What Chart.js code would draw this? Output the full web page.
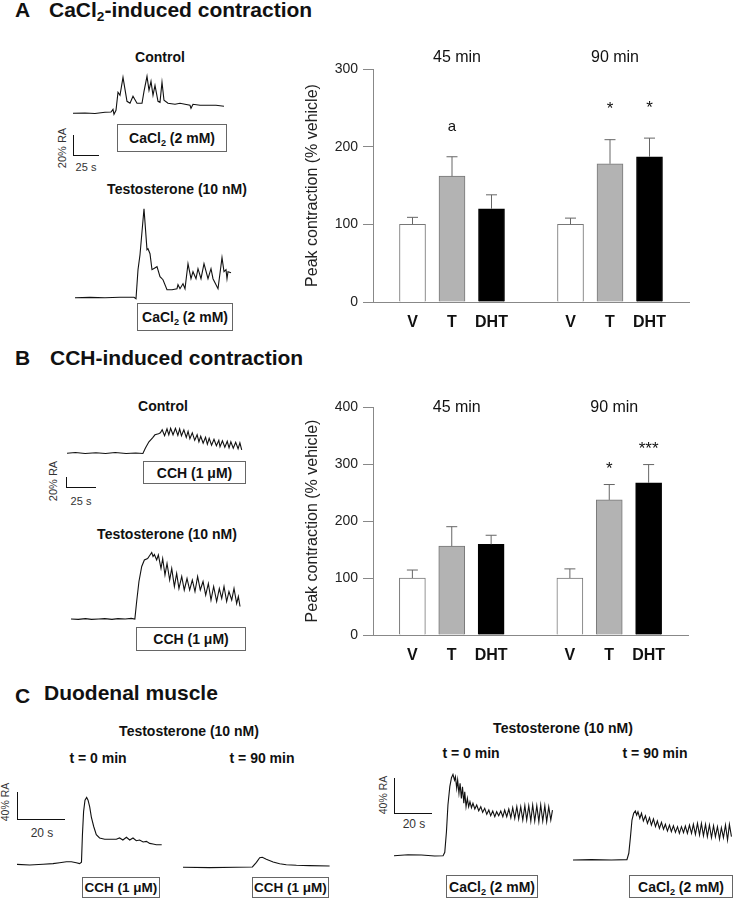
<!DOCTYPE html>
<html>
<head>
<meta charset="utf-8">
<script src="https://cdn.jsdelivr.net/npm/chart.js@4"></script>
<style>
  body { margin: 0; background: #fff; }
  #fig { position: relative; width: 737px; height: 900px; overflow: hidden; font-family: Arial, "Liberation Sans", sans-serif; color: #111; }
  #fig canvas { position: absolute; }
  .h { position: absolute; font-weight: bold; font-size: 21px; line-height: 21px; white-space: nowrap; }
  .t { position: absolute; white-space: nowrap; line-height: 1; transform: translate(-50%, -50%); }
  .b { font-weight: bold; font-size: 14px; }
  .rot { transform: translate(-50%, -50%) rotate(-90deg); font-size: 11px; color: #333; }
  .sec { font-size: 12px; color: #333; }
  .box { position: absolute; box-sizing: border-box; border: 1px solid #666; display: flex; align-items: center; justify-content: center; font-weight: bold; font-size: 14px; white-space: nowrap; }
  .bar { position: absolute; box-sizing: border-box; border-left: 1.5px solid #111; border-bottom: 1.5px solid #111; }
  sub { font-size: 0.65em; vertical-align: -0.3em; line-height: 0; }
</style>
</head>
<body>
<div id="fig">
  <!-- headings -->
  <div class="h" style="left:15px;top:-1px">A</div>
  <div class="h" style="left:49px;top:-1px">CaCl<sub>2</sub>-induced contraction</div>
  <div class="h" style="left:15px;top:347px">B</div>
  <div class="h" style="left:50px;top:347px">CCH-induced contraction</div>
  <div class="h" style="left:15px;top:685px">C</div>
  <div class="h" style="left:44px;top:682px">Duodenal muscle</div>

  <!-- A traces -->
  <div class="t b" style="left:160px;top:57px">Control</div>
  <div class="t b" style="left:177px;top:189px">Testosterone (10 nM)</div>
  <div class="box" style="left:117px;top:124px;width:110px;height:28px"><span>CaCl<sub>2</sub> (2 mM)</span></div>
  <div class="box" style="left:137px;top:303px;width:96px;height:28px"><span>CaCl<sub>2</sub> (2 mM)</span></div>
  <div class="bar" style="left:73px;top:135px;width:26px;height:21px"></div>
  <div class="t rot" style="left:62px;top:148px">20% RA</div>
  <div class="t sec" style="left:86px;top:167px;font-size:11px">25 s</div>
  <canvas id="aCtrl" width="151" height="50" style="left:73px;top:70px"></canvas>
  <canvas id="aTesto" width="160" height="105" style="left:75px;top:200px"></canvas>

  <!-- B traces -->
  <div class="t b" style="left:163px;top:406px">Control</div>
  <div class="t b" style="left:167px;top:534px">Testosterone (10 nM)</div>
  <div class="box" style="left:143px;top:461px;width:103px;height:23px"><span>CCH (1 μM)</span></div>
  <div class="box" style="left:136px;top:627px;width:110px;height:24px"><span>CCH (1 μM)</span></div>
  <div class="bar" style="left:66px;top:477px;width:30px;height:11px"></div>
  <div class="t rot" style="left:53px;top:481px">20% RA</div>
  <div class="t sec" style="left:81px;top:501px;font-size:11px">25 s</div>
  <canvas id="bCtrl" width="180" height="40" style="left:67px;top:420px"></canvas>
  <canvas id="bTesto" width="175" height="80" style="left:71px;top:545px"></canvas>

  <!-- C traces -->
  <div class="t b" style="left:189px;top:731px">Testosterone (10 nM)</div>
  <div class="t b" style="left:98px;top:758px">t = 0 min</div>
  <div class="t b" style="left:262px;top:758px">t = 90 min</div>
  <div class="t b" style="left:563px;top:728px">Testosterone (10 nM)</div>
  <div class="t b" style="left:471px;top:753px">t = 0 min</div>
  <div class="t b" style="left:655px;top:753px">t = 90 min</div>
  <div class="box" style="left:82px;top:877px;width:78px;height:21px;font-size:13.5px"><span>CCH (1 μM)</span></div>
  <div class="box" style="left:252px;top:877px;width:77px;height:21px;font-size:13.5px"><span>CCH (1 μM)</span></div>
  <div class="box" style="left:446px;top:875px;width:92px;height:23px"><span>CaCl<sub>2</sub> (2 mM)</span></div>
  <div class="box" style="left:629px;top:875px;width:104px;height:23px"><span>CaCl<sub>2</sub> (2 mM)</span></div>
  <div class="bar" style="left:17px;top:792px;width:48px;height:28px"></div>
  <div class="t rot" style="left:5px;top:802px;font-size:10.5px">40% RA</div>
  <div class="t sec" style="left:42px;top:833px">20 s</div>
  <div class="bar" style="left:394px;top:778px;width:38px;height:36px"></div>
  <div class="t rot" style="left:383px;top:795px;font-size:10.5px">40% RA</div>
  <div class="t sec" style="left:414px;top:824px">20 s</div>
  <canvas id="cCch0" width="150" height="85" style="left:17px;top:785px"></canvas>
  <canvas id="cCch90" width="150" height="30" style="left:183px;top:845px"></canvas>
  <canvas id="cCa0" width="165" height="95" style="left:394px;top:765px"></canvas>
  <canvas id="cCa90" width="162" height="65" style="left:573px;top:800px"></canvas>

  <!-- bar charts -->
  <canvas id="barA" width="410" height="300" style="left:290px;top:40px"></canvas>
  <canvas id="barB" width="410" height="300" style="left:290px;top:380px"></canvas>
</div>

<script>
/* global Chart */

// ── Bar data ───────────────────────────────────────────────────────────────

const barCategories = ['V', 'T', 'DHT'];
const timeGroups    = ['45 min', '90 min'];
const barFills      = ['#ffffff', '#b3b3b3', '#000000'];

// CaCl2-induced contraction, % vehicle (45 min V,T,DHT then 90 min V,T,DHT)
const caclMean  = [100, 162, 120, 100, 178, 187];
const caclSem   = [9, 25, 18, 8, 31, 24];
const caclSig   = ['', 'a', '', '', '*', '*'];
const caclTicks = [0, 100, 200, 300];

// CCH-induced contraction, % vehicle
const cchMean  = [100, 156, 159, 100, 237, 267];
const cchSem   = [14, 34, 16, 16, 27, 32];
const cchSig   = ['', '', '', '', '*', '***'];
const cchTicks = [0, 100, 200, 300, 400];

// ── Trace data (time in s, tension in % RA above baseline) ──────────────────

const aCtrlTime = [0, 12, 22, 32, 38, 40, 41, 43, 45, 47, 50, 54, 57, 60, 64, 69, 71, 74, 76, 78, 80, 82, 85, 87, 89, 91, 95, 102, 107, 112, 117, 118, 120, 127, 135, 143, 151];
const aCtrlRA   = [0, 0.3, -0.2, 1, 1.3, 4, -1, 3, 21, 18, 36, 12, 10, 17, 10, 10, 22, 37, 23, 32, 18, 28, 12, 11, 31, 13, 10, 9, 10, 9, 8, 5, 9, 8, 8, 8, 7];

const aTestoTime = [0, 15, 30, 45, 59, 61, 63, 65, 69, 72, 73, 75, 77, 82, 85, 88, 92, 97, 102, 103, 105, 108, 110, 113, 116, 118, 121, 123, 126, 129, 133, 136, 138, 143, 147, 149, 151, 152, 153, 156];
const aTestoRA   = [0, 0.3, 0, 0.5, 0.5, -1, 28, 43, 89, 48, 49, 44, 28, 31, 21, 18, 8, 8, 9, 13, 9, 14, 9, 34, 19, 26, 19, 29, 19, 34, 19, 29, 19, 9, 40, 26, 28, 19, 26, 25];

const bCtrlTime = [0, 7, 15, 24, 32, 40, 49, 57, 63, 65, 68, 71, 73, 76, 77.5,
  79, 81, 83, 84.5, 86, 88, 90, 92, 93.5, 95, 97, 99, 100.5, 102, 104, 106, 108, 109.5, 111, 113,
  115, 116.5, 118, 120, 122, 124, 126, 127, 129, 131, 133, 134.5, 136, 138, 140, 142, 143.5, 145];
const bCtrlRA   = [0, 1.6, -0.4, 1, -0.4, 1.6, -0.4, 0.6, -0.4, 10, 23, 31, 37, 39, 41,
  47, 35, 49, 37, 50, 37, 50, 36, 49, 35, 47, 32, 44, 29, 41, 26, 37, 23, 34, 20,
  32, 18, 30, 16, 28, 15, 26, 13, 25, 12, 24, 11, 23, 10, 22, 9, 21, 7];

const bTestoTime = [0, 6, 12, 17, 23, 28, 34, 39, 45, 50, 53, 54.5, 56.4, 58.7, 60.9, 63.6, 65.6, 67, 68.1, 69.2,
  71.1, 72.5, 74.7, 76.1, 78, 79.7, 81.9, 83.6, 85.8, 87.7, 89.6, 91.9, 94, 96.3, 98.5, 100.7, 102.9, 105.1, 107.3, 109.6,
  111.8, 114, 116.2, 118.4, 120.9, 123.1, 125.1, 127, 129.2, 131.1, 133.4, 135.3, 137.5, 138.9, 140.3];
const bTestoRA   = [0, -0.7, 0.7, -0.7, 0, 0.7, -0.7, 0.7, 0, 1.3, 0, 35, 75, 105, 118, 121, 128, 133, 125, 129,
  118, 128, 101, 121, 88, 111, 78, 101, 65, 91, 61, 85, 58, 81, 58, 78, 55, 85, 58, 75,
  48, 71, 38, 65, 35, 61, 41, 65, 35, 55, 38, 61, 31, 45, 25];

const cCch0Time = [0, 5.4, 11.1, 15.3, 18.1, 21, 23.1, 25.2, 26.6, 27.4, 27.8, 28.3, 28.9, 29.6, 30.2, 30.9, 31.6, 32.6, 33.7, 35.1,
  37.3, 39.4, 42.2, 43.6, 45, 46.5, 47.9, 49.3, 50.7, 52.1, 53.6, 55, 56.4, 57.8, 59.2, 61.5];
const cCch0RA   = [0, -1, 0, 1, 2.4, 3.9, 3.9, 2.4, 1, 3, 43, 78, 95, 99, 95, 85, 70, 56, 44, 39,
  37, 37, 37, 39, 36, 40, 36, 39, 35, 36, 33, 34, 31, 30, 29, 29];

const cCch90Time = [0, 11.3, 22.7, 29.5, 31.2, 32.6, 33.7, 35.4, 38.3, 41.1, 43.9, 48.2, 53.8, 62.3];
const cCch90RA   = [0, -0.5, 0, 0.5, 7.4, 14.2, 14.8, 11.8, 7.8, 5.3, 3.8, 3, 2.5, 2];

const cCa0Time = [0, 7.5, 14.7, 21.8, 26.3, 27.2, 28.1, 28.9, 29.9, 30.8,
  31.6, 32.4, 32.9, 33.6, 34.1, 34.8, 35.4, 36.1, 36.7, 37.4,
  37.9, 38.6, 39.3, 40, 40.7, 41.5, 42.3, 43.3, 44.3, 45.4,
  46.5, 47.5, 48.6, 49.7, 50.8, 51.8, 52.9, 54, 55, 56.1,
  57.2, 58.3, 59.3, 60.4, 61.5, 62.6, 63.6, 64.7, 65.8, 66.8,
  67.9, 69, 70.1, 71.1, 72.2, 73.3, 74.3, 75.4, 76.5, 77.6,
  78.6, 79.7, 80.8, 81.8, 82.9, 84, 84.9];
const cCa0RA   = [0, 1.1, 0.8, -0.4, 0, 3.9, 27.4, 58, 78.9, 89.2,
  93, 86.5, 90.3, 77, 86.5, 71.3, 82.7, 65.6, 78.9, 59.9,
  73.2, 56, 65.6, 56, 61.7, 54.9, 59.9, 53.4, 58, 51.4,
  56, 49.6, 54.2, 47.3, 52.2, 45.7, 51.1, 44.6, 50.3, 45.7,
  51.1, 44.6, 52.2, 44.6, 53.4, 43.4, 54.9, 42.7, 56, 41.9,
  56, 40.8, 57.2, 40.8, 57.2, 39.7, 58, 39.7, 57.2, 38.9,
  58, 39.7, 57.2, 38.9, 56, 40.8, 52.2];

const cCa90Time = [0, 9.9, 20.6, 28.9, 29.9, 30.8, 31.6, 32.5, 33.4, 34.1,
  34.8, 35.8, 36.7, 37.7, 38.8, 39.9, 41, 42, 43.1, 44.2,
  45.2, 46.3, 47.4, 48.5, 49.5, 50.6, 51.7, 52.7, 53.8, 54.9,
  56, 57, 58.1, 59.2, 60.2, 61.3, 62.4, 63.5, 64.5, 65.6,
  66.7, 67.8, 68.8, 69.9, 71, 72, 73.1, 74.2, 75.3, 76.3,
  77.4, 78.5, 79.5, 80.6, 81.7, 82.8, 83.8, 84.9];
const cCa90RA   = [0, 0.4, 0, 0.4, 7.7, 26.7, 45.7, 53.4, 56, 51.4,
  55.2, 47.7, 53.4, 44.6, 50.6, 41.9, 48.4, 40, 46.9, 38.1,
  44.6, 36.2, 43.1, 35.1, 40.8, 33.1, 40, 32.4, 39.2, 31.6,
  38.1, 30.5, 38.1, 31.2, 38.9, 30.5, 40, 30.5, 40.8, 29.4,
  41.9, 28.6, 41.9, 27.8, 40.8, 26.7, 40, 25.5, 39.2, 26.7,
  38.1, 24, 36.9, 25.5, 40, 22.9, 40.8, 26.7];

Chart.defaults.font.family = 'Arial, "Liberation Sans", Helvetica, sans-serif';

// ── Traces ─────────────────────────────────────────────────────────────────

function drawTrace(id, time, ra, xMax, yMin, yMax) {
  new Chart(document.getElementById(id), {
    type: 'line',
    data: {
      datasets: [{
        data: time.map((t, i) => ({ x: t, y: ra[i] })),
        borderColor: '#111',
        borderWidth: 1.1,
        pointRadius: 0,
        tension: 0,
        clip: false,
      }],
    },
    options: {
      responsive: false,
      animation: false,
      events: [],
      layout: { padding: 0 },
      plugins: { legend: { display: false }, tooltip: { enabled: false } },
      scales: {
        x: { type: 'linear', display: false, min: 0, max: xMax },
        y: { type: 'linear', display: false, min: yMin, max: yMax },
      },
    },
  });
}

drawTrace('aCtrl',  aCtrlTime,  aCtrlRA,  151,    -6.7, 43.3);
drawTrace('aTesto', aTestoTime, aTestoRA, 160,    -7.3, 97.7);
drawTrace('bCtrl',  bCtrlTime,  bCtrlRA,  149.4,  -13.4, 66.6);
drawTrace('bTesto', bTestoTime, bTestoRA, 145.25, -12, 148);
drawTrace('cCch0',  cCch0Time,  cCch0RA,  63.75,  -8.4, 117.4);
drawTrace('cCch90', cCch90Time, cCch90RA, 63.75,  -11.4, 33);
drawTrace('cCa0',   cCa0Time,   cCa0RA,   88.4,   -4.9, 103.7);
drawTrace('cCa90',  cCa90Time,  cCa90RA,  86.8,   -5.7, 68.6);

// ── Bar charts ─────────────────────────────────────────────────────────────

// error bars, significance marks and time-point titles
const barExtras = {
  id: 'barExtras',
  afterDatasetsDraw(chart, args, o) {
    const { ctx, chartArea, scales: { x, y } } = chart;
    const meta = chart.getDatasetMeta(0);
    ctx.save();
    o.mean.forEach((m, i) => {
      const bar = meta.data[i < 3 ? i + 1 : i + 2];
      const top = y.getPixelForValue(m + o.sem[i]);
      ctx.strokeStyle = '#666';
      ctx.lineWidth = 1;
      ctx.beginPath();
      ctx.moveTo(bar.x, bar.y);
      ctx.lineTo(bar.x, top);
      ctx.moveTo(bar.x - 5.5, top);
      ctx.lineTo(bar.x + 5.5, top);
      ctx.stroke();
      if (o.sig[i]) {
        ctx.fillStyle = '#111';
        ctx.textAlign = 'center';
        ctx.textBaseline = 'middle';
        ctx.font = (o.sig[i] === 'a' ? 15 : 17) + 'px ' + Chart.defaults.font.family;
        ctx.fillText(o.sig[i], bar.x, top - o.sigGap);
      }
    });
    ctx.fillStyle = '#111';
    ctx.textAlign = 'center';
    ctx.textBaseline = 'middle';
    ctx.font = '16px ' + Chart.defaults.font.family;
    timeGroups.forEach((g, gi) => {
      ctx.fillText(g, x.getPixelForValue(2 + gi * 4) + 5, chartArea.top + o.titleDy);
    });
    ctx.restore();
  },
};

function drawBars(id, mean, sem, sig, ticks, pad, xHeight, titleDy, sigGap) {
  const labels = ['', ...barCategories, '', ...barCategories, ''];
  const values = [null, ...mean.slice(0, 3), null, ...mean.slice(3), null];
  const fills  = ['#fff', ...barFills, '#fff', ...barFills, '#fff'];
  new Chart(document.getElementById(id), {
    type: 'bar',
    data: {
      labels,
      datasets: [{
        data: values,
        backgroundColor: fills,
        borderColor: fills.map(c => (c === '#000000' ? '#000' : '#777')),
        borderWidth: 1,
        barThickness: 26,
      }],
    },
    options: {
      responsive: false,
      animation: false,
      events: [],
      layout: { padding: pad },
      plugins: {
        legend: { display: false },
        tooltip: { enabled: false },
        barExtras: { mean, sem, sig, titleDy, sigGap },
      },
      scales: {
        x: {
          type: 'category',
          offset: false,
          grid: { display: false, drawTicks: false },
          border: { color: '#888', width: 1 },
          ticks: { color: '#111', font: { size: 16, weight: 'bold' }, padding: 11, autoSkip: false, maxRotation: 0 },
          afterFit: s => { s.height = xHeight; },
        },
        y: {
          min: ticks[0],
          max: ticks[ticks.length - 1],
          afterBuildTicks: s => { s.ticks = ticks.map(v => ({ value: v })); },
          grid: { drawOnChartArea: false, tickLength: 10, color: '#888' },
          border: { color: '#888', width: 1 },
          ticks: { color: '#222', font: { size: 14 }, padding: 5 },
          title: {
            display: true,
            text: 'Peak contraction (% vehicle)',
            color: '#222',
            font: { size: 16 },
            padding: { top: 13, bottom: 0 },
          },
          afterFit: s => { s.width = 83; },
        },
      },
    },
    plugins: [barExtras],
  });
}

drawBars('barA', caclMean, caclSem, caclSig, caclTicks, { top: 29, right: 11, left: 0, bottom: 0 }, 38, -11, 30);
drawBars('barB', cchMean,  cchSem,  cchSig,  cchTicks,  { top: 27, right: 12, left: 0, bottom: 0 }, 45, 1, 15);
</script>
</body>
</html>
